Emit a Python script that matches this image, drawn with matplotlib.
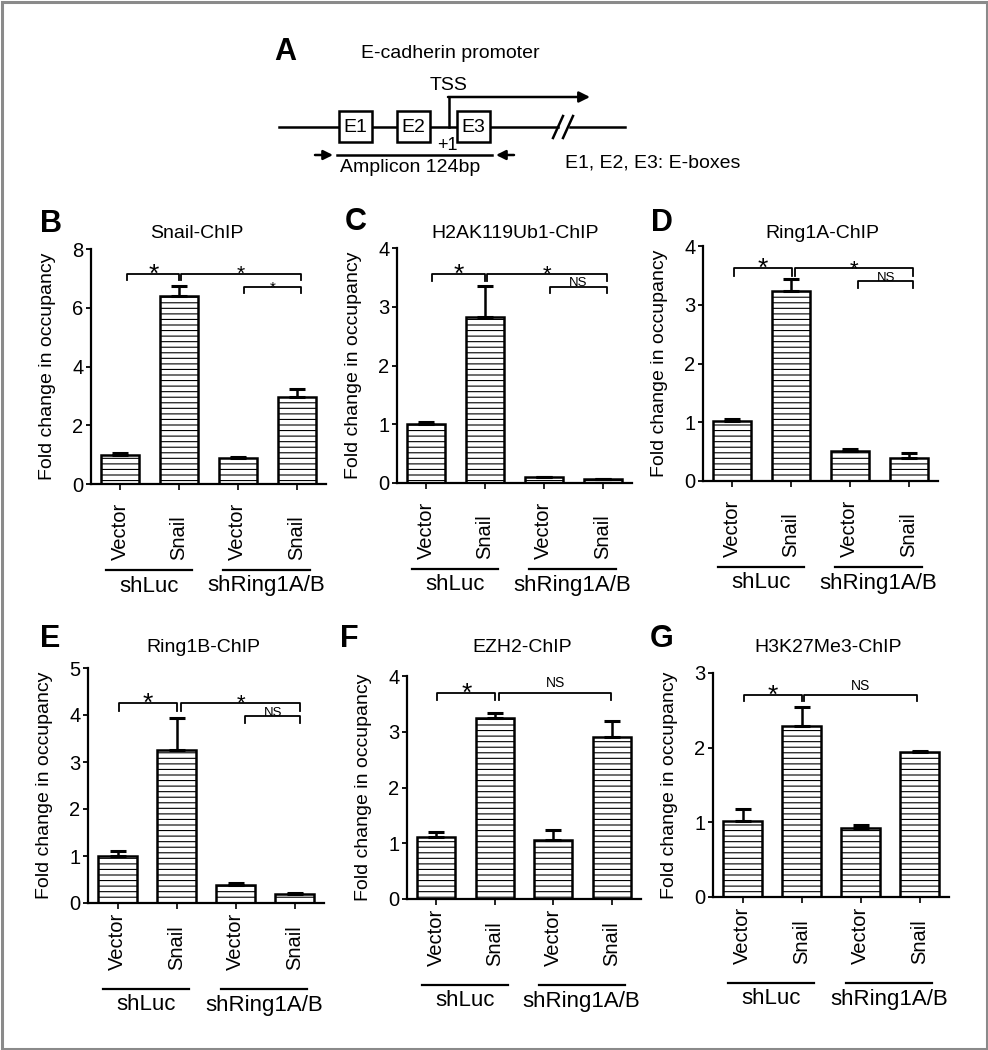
import numpy as np
import matplotlib
matplotlib.use('Agg')
import matplotlib.pyplot as plt
from matplotlib.patches import Rectangle
from matplotlib import transforms

plt.rcParams['font.family'] = ['Liberation Sans', 'DejaVu Sans']
plt.rcParams['hatch.linewidth'] = 0.8

W, H = 988, 1050

# categories
conditions = ['Vector', 'Snail', 'Vector', 'Snail']
groups = ['shLuc', 'shRing1A/B']

# panel B - Snail-ChIP
snail_mean = [1.00, 6.41, 0.87, 2.96]
snail_err = [0.05, 0.33, 0.06, 0.27]
snail_sig = [(0.12, 1.00, 7.16, 6.95, '*'), (1.03, 3.07, 7.16, 6.95, '*'), (2.11, 3.07, 6.70, 6.50, '*')]

# panel C - H2AK119Ub1-ChIP
h2a_mean = [1.01, 2.82, 0.10, 0.06]
h2a_err = [0.02, 0.54, 0.01, 0.01]
h2a_sig = [(0.10, 1.00, 3.56, 3.44, '*'), (1.04, 3.07, 3.56, 3.44, '*'), (2.10, 3.07, 3.34, 3.23, 'NS')]

# panel D - Ring1A-ChIP
ring1a_mean = [1.02, 3.24, 0.51, 0.40]
ring1a_err = [0.03, 0.20, 0.04, 0.07]
ring1a_sig = [(0.03, 1.02, 3.62, 3.49, '*'), (1.06, 3.08, 3.62, 3.49, '*'), (2.14, 3.08, 3.40, 3.29, 'NS')]

# panel E - Ring1B-ChIP
ring1b_mean = [1.01, 3.26, 0.39, 0.20]
ring1b_err = [0.09, 0.68, 0.03, 0.01]
ring1b_sig = [(0.02, 1.00, 4.26, 4.09, '*'), (1.08, 3.10, 4.26, 4.09, '*'), (2.16, 3.10, 3.97, 3.84, 'NS')]

# panel F - EZH2-ChIP
ezh2_mean = [1.11, 3.25, 1.06, 2.90]
ezh2_err = [0.10, 0.09, 0.18, 0.29]
ezh2_sig = [(0.02, 1.01, 3.70, 3.57, '*'), (1.08, 2.99, 3.70, 3.57, 'NS')]

# panel G - H3K27Me3-ChIP
h3k_mean = [1.02, 2.29, 0.93, 1.94]
h3k_err = [0.16, 0.26, 0.03, 0.01]
h3k_sig = [(0.03, 1.01, 2.70, 2.62, '*'), (1.05, 2.96, 2.70, 2.62, 'NS')]

fig = plt.figure(figsize=(W / 100, H / 100), dpi=100)

# ---- panel A : promoter schematic (pixel coords) ----
axA = fig.add_axes([0, 0, 1, 1])
axA.set_xlim(0, W)
axA.set_ylim(H, 0)
axA.axis('off')

lw_d = 1.8
axA.text(285, 52, 'A', fontsize=22, fontweight='bold', ha='center', va='center')
axA.text(450, 53, 'E-cadherin promoter', fontsize=14, ha='center', va='center')
axA.text(449, 85, 'TSS', fontsize=14, ha='center', va='center')
axA.plot([279, 558], [127, 127], color='k', lw=lw_d)
axA.plot([570, 625], [127, 127], color='k', lw=lw_d)
axA.plot([553, 563], [138, 116], color='k', lw=lw_d)
axA.plot([563, 573], [138, 116], color='k', lw=lw_d)
boxes = [('E1', 339), ('E2', 397), ('E3', 457)]
for name, bx in boxes:
    axA.add_patch(Rectangle((bx, 111), 33, 31, facecolor='white', edgecolor='k', lw=lw_d, zorder=3))
    axA.text(bx + 16.5, 127, name, fontsize=14, ha='center', va='center', zorder=4)
axA.plot([449, 449], [127, 97], color='k', lw=lw_d)
axA.annotate('', xy=(590, 97), xytext=(448, 97),
             arrowprops=dict(arrowstyle='-|>', color='k', lw=lw_d, mutation_scale=16, shrinkA=0, shrinkB=0))
axA.text(447, 146, '+1', fontsize=13, ha='center', va='center')
axA.plot([337, 492], [155, 155], color='k', lw=lw_d)
axA.annotate('', xy=(333, 155), xytext=(315, 155),
             arrowprops=dict(arrowstyle='-|>', color='k', lw=lw_d, mutation_scale=14, shrinkA=0, shrinkB=0))
axA.annotate('', xy=(496, 155), xytext=(514, 155),
             arrowprops=dict(arrowstyle='-|>', color='k', lw=lw_d, mutation_scale=14, shrinkA=0, shrinkB=0))
axA.text(410, 167, 'Amplicon 124bp', fontsize=14, ha='center', va='center')
axA.text(565, 163, 'E1, E2, E3: E-boxes', fontsize=14, ha='left', va='center')


def bar_panel(px, letter, letter_xy, title, title_xy, means, errs, ymax, ystep, sig, star_sizes, ns_off, lab_off):
    l, t, r, b = px
    axw, axh = r - l, b - t
    ax = fig.add_axes([l / W, 1 - b / H, axw / W, axh / H])
    x = np.arange(len(conditions))
    ax.bar(x, means, width=0.65, color='white', edgecolor='black', linewidth=1.8, hatch='---', zorder=2)
    ax.errorbar(x, means, yerr=[np.zeros(len(errs)), errs], fmt='none', ecolor='black',
                elinewidth=1.8, capsize=6, capthick=2.2, zorder=3)
    ax.set_xlim(-0.5, 3.5)
    ax.set_ylim(0, ymax)
    ax.set_yticks(np.arange(0, ymax + ystep / 2, ystep))
    ax.set_yticklabels([str(int(v)) for v in np.arange(0, ymax + ystep / 2, ystep)], fontsize=14.5)
    ax.set_xticks(x)
    ax.set_xticklabels([])
    for s in ['top', 'right']:
        ax.spines[s].set_visible(False)
    for s in ['left', 'bottom']:
        ax.spines[s].set_linewidth(1.6)
    ax.tick_params(axis='y', length=3.5, width=1.3, pad=2)
    ax.tick_params(axis='x', length=4.5, width=1.2)
    ax.set_ylabel('Fold change in occupancy', fontsize=14)
    ax.yaxis.set_label_coords(-35 / axw, 0.5)

    trans = transforms.blended_transform_factory(ax.transData, ax.transAxes)
    for xi, c in zip(x, conditions):
        ax.text(xi, -lab_off / axh, c, rotation=90, ha='center', va='bottom', fontsize=14.5,
                transform=trans, clip_on=False)
    for gi, g in enumerate(groups):
        x0, x1 = gi * 2 - 0.25, gi * 2 + 1.22
        ax.plot([x0, x1], [-86 / axh] * 2, color='k', lw=1.6, transform=trans, clip_on=False)
        ax.text((x0 + x1) / 2, -102 / axh, g, ha='center', va='center', fontsize=16,
                transform=trans, clip_on=False)

    for (x1, x2, yt, yb, lab), fs in zip(sig, star_sizes):
        ax.plot([x1, x1, x2, x2], [yb, yt, yt, yb], color='k', lw=1.3, clip_on=False)
        off = -fs * 0.3 if lab == '*' else ns_off
        ax.annotate(lab, xy=((x1 + x2) / 2, yt), xytext=(0, off), textcoords='offset points',
                    ha='center', va='baseline', fontsize=fs, annotation_clip=False)

    fig.text(letter_xy[0] / W, 1 - letter_xy[1] / H, letter, fontsize=22, fontweight='bold',
             ha='center', va='center')
    fig.text(title_xy[0] / W, 1 - title_xy[1] / H, title, fontsize=14, ha='center', va='center')
    return ax


bar_panel((91, 249, 326, 484), 'B', (51, 224), 'Snail-ChIP', (197, 233),
          snail_mean, snail_err, 8, 2, snail_sig, [19, 15, 11], 0.5, 76)
bar_panel((397, 248, 632, 483), 'C', (356, 222), 'H2AK119Ub1-ChIP', (515, 233),
          h2a_mean, h2a_err, 4, 1, h2a_sig, [19, 16, 9.5], 0.5, 76)
bar_panel((703, 246, 938, 481), 'D', (662, 223), 'Ring1A-ChIP', (822, 233),
          ring1a_mean, ring1a_err, 4, 1, ring1a_sig, [19, 16, 9.5], 0.5, 76)
bar_panel((88, 668, 324, 903), 'E', (50, 639), 'Ring1B-ChIP', (203, 648),
          ring1b_mean, ring1b_err, 5, 1, ring1b_sig, [19, 16, 9.5], 0.5, 67)
bar_panel((407, 676, 641, 899), 'F', (349, 639), 'EZH2-ChIP', (522, 648),
          ezh2_mean, ezh2_err, 4, 1, ezh2_sig, [19, 10], 4, 67)
bar_panel((713, 673, 949, 897), 'G', (662, 639), 'H3K27Me3-ChIP', (828, 648),
          h3k_mean, h3k_err, 3, 1, h3k_sig, [19, 10], 4, 67)

# grey frame around the figure
fig.patches.append(Rectangle((1.5 / W, 1.5 / H), 1 - 3 / W, 1 - 3 / H, transform=fig.transFigure,
                             fill=False, edgecolor='#8a8a8a', lw=2.2))

fig.savefig('out.png', dpi=100)
